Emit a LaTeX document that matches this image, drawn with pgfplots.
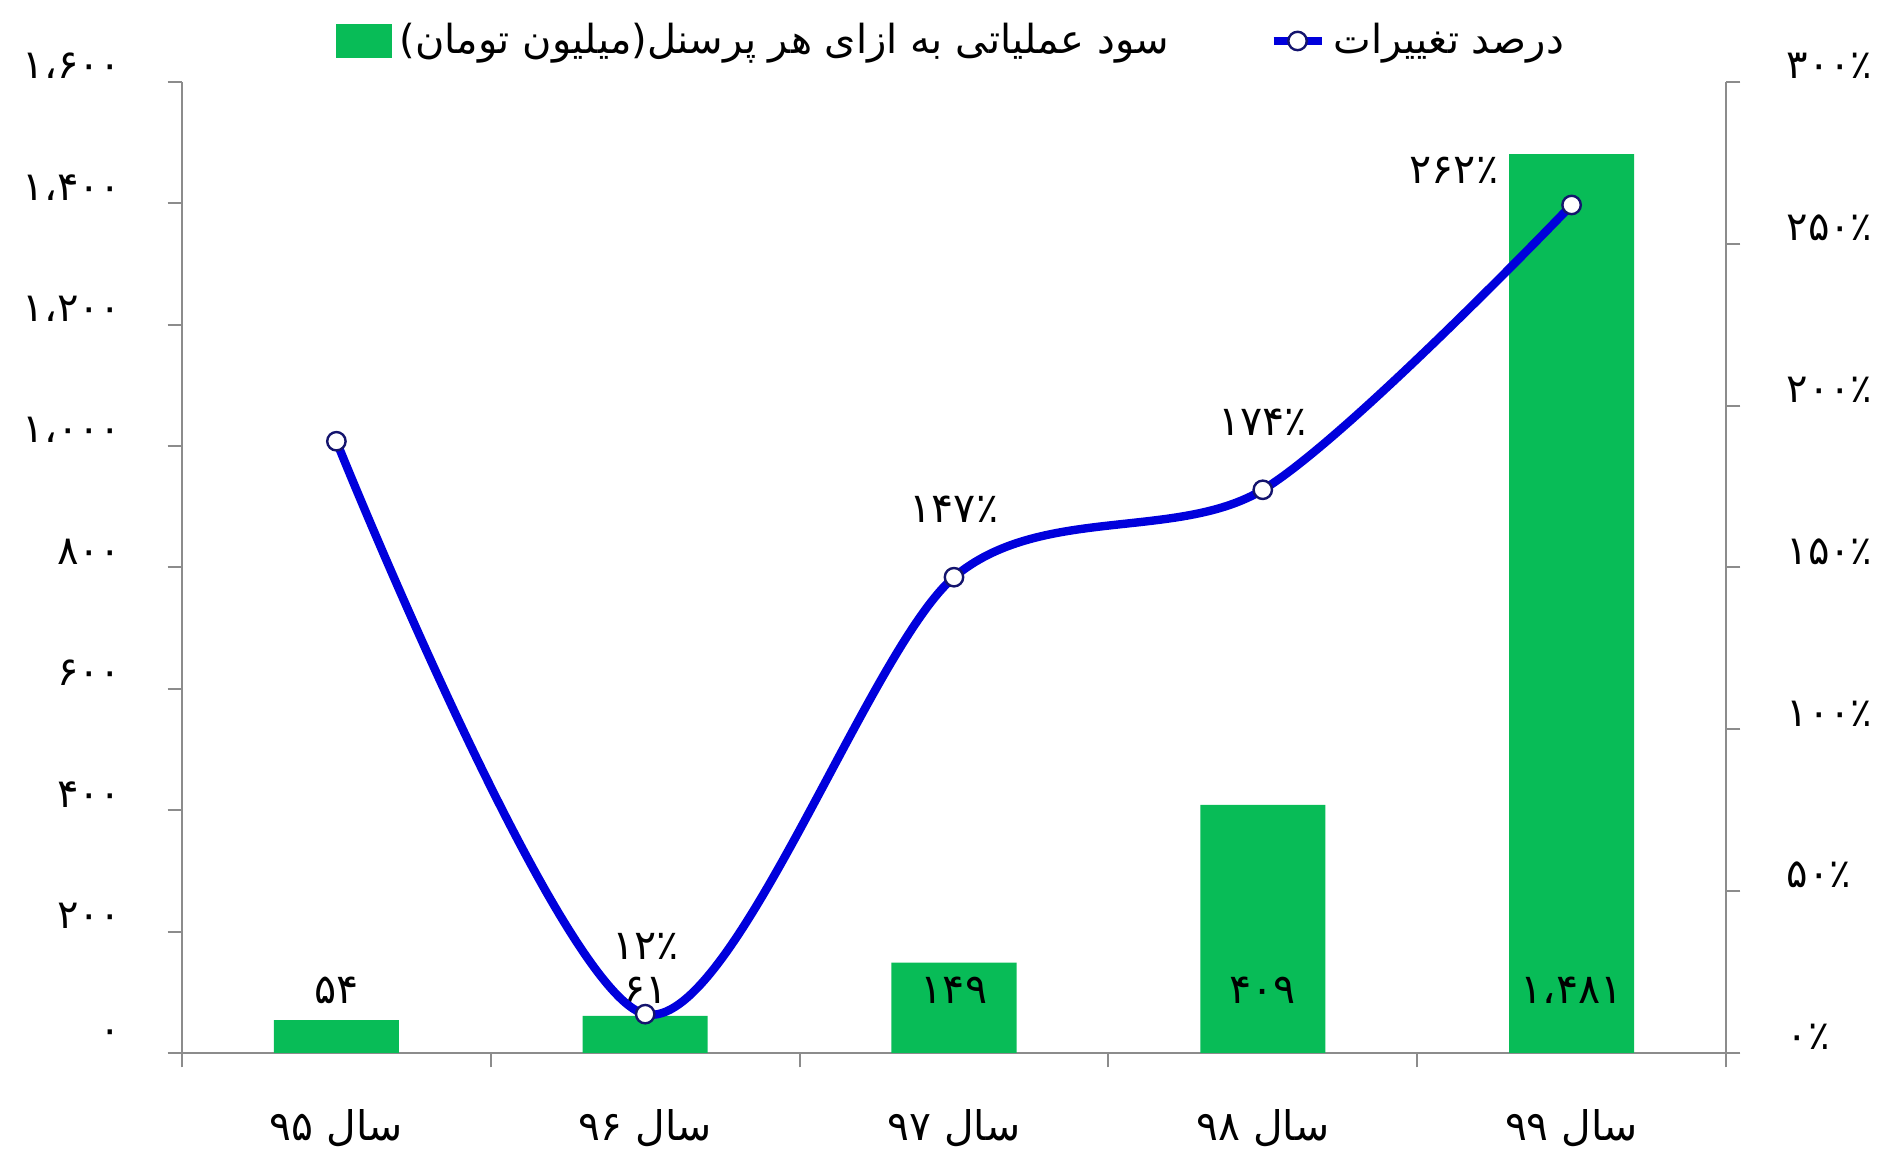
\documentclass[border=0pt]{standalone}
\usepackage{fontspec}
\usepackage{pgfplots}
\pgfplotsset{compat=1.18}
\TeXXeTstate=1
\newfontfamily\fa[Script=Arabic]{DejaVu Sans}
\definecolor{barGreen}{RGB}{8,188,87}
\definecolor{lineBlue}{RGB}{0,0,220}
\definecolor{axGray}{RGB}{140,140,140}
\definecolor{mkNavy}{RGB}{20,20,110}
\pgfplotsset{
  common/.style={
    width=386pt, height=242.75pt, scale only axis,
    xmin=-0.5, xmax=4.5,
    axis line style={axGray, line width=0.5pt},
    every tick/.style={axGray, line width=0.5pt},
    tick align=outside,
    major tick length=3.6pt,
    minor tick length=3.6pt,
    clip=false,
  },
  barlegend/.style={legend image code/.code={\fill[barGreen] (0pt,-4pt) rectangle (13.5pt,4pt);}},
  linelegend/.style={legend image code/.code={\draw[##1, mark repeat=2, mark phase=2] plot coordinates {(0pt,0pt) (6pt,0pt) (12pt,0pt)};}},
}

\begin{document}
\begin{tikzpicture}
% bars, left axis
\begin{axis}[common, name=ax1,
  axis x line*=bottom, axis y line*=left,
  ymin=0, ymax=1600,
  ytick={0,200,...,1600},
  yticklabels={۰,۲۰۰,۴۰۰,۶۰۰,۸۰۰,۱،۰۰۰,۱،۲۰۰,۱،۴۰۰,۱،۶۰۰},
  yticklabel style={font=\fa\fontsize{10}{12}\selectfont, anchor=east, yshift=4pt, xshift=-8pt},
  xtick={0,...,4},
  xticklabels={{\beginR سال ۹۵\endR},{\beginR سال ۹۶\endR},{\beginR سال ۹۷\endR},{\beginR سال ۹۸\endR},{\beginR سال ۹۹\endR}},
  xticklabel style={font=\fa\fontsize{10.2}{12}\selectfont, yshift=-7pt},
  major x tick style={draw=none},
  minor xtick={-0.5,0.5,...,4.5},
]
\addplot[ybar, bar width=0.405, fill=barGreen, draw=none] coordinates {(0,54) (1,61) (2,149) (3,409) (4,1481)};
\addplot[draw=none, mark=none, nodes near coords, point meta=explicit symbolic,
  nodes near coords style={anchor=center, text=black, font=\fa\fontsize{10.3}{12}\selectfont}]
  coordinates {(0,103) [۵۴] (1,103) [۶۱] (2,103) [۱۴۹] (3,103) [۴۰۹] (4,103) [۱،۴۸۱]};
\end{axis}
% line, right axis
\begin{axis}[common,
  axis x line=none, axis y line*=right,
  ymin=0, ymax=300,
  ytick={0,50,...,300},
  yticklabels={۰٪,۵۰٪,۱۰۰٪,۱۵۰٪,۲۰۰٪,۲۵۰٪,۳۰۰٪},
  yticklabel style={font=\fa\fontsize{10}{12}\selectfont, anchor=west, yshift=4pt, xshift=8pt},
  legend columns=2,
  legend style={at={(0.5,1)}, anchor=south, yshift=1.5pt, draw=none, fill=none,
    font=\fa\fontsize{10}{12}\selectfont,
    /tikz/every even column/.append style={column sep=23pt}},
]
\addlegendimage{barlegend}
\addlegendentry{\beginR سود عملیاتی به ازای هر پرسنل(میلیون تومان)\endR}
\addplot[lineBlue, line width=2.1pt, smooth, mark=*, mark size=2.3pt,
  mark options={fill=white, draw=mkNavy, line width=0.6pt}, linelegend]
  coordinates {(0,189) (1,12) (2,147) (3,174) (4,262)};
\addlegendentry{\beginR درصد تغییرات\endR}
\addplot[draw=none, mark=none, nodes near coords, point meta=explicit symbolic,
  nodes near coords style={anchor=center, yshift=17pt, text=black, font=\fa\fontsize{10.3}{12}\selectfont}]
  coordinates {(1,12) [۱۲٪] (2,147) [۱۴۷٪] (3,174) [۱۷۴٪]};
\addplot[draw=none, mark=none, nodes near coords, point meta=explicit symbolic,
  nodes near coords style={anchor=center, xshift=-29.4pt, yshift=8.7pt, text=black, font=\fa\fontsize{10.3}{12}\selectfont}]
  coordinates {(4,262) [۲۶۲٪]};
\end{axis}
\pgfresetboundingbox
\path[use as bounding box] ([xshift=-45.5pt,yshift=-24.25pt]ax1.south west) rectangle ([xshift=39.25pt,yshift=20.5pt]ax1.north east);
\end{tikzpicture}
\end{document}
